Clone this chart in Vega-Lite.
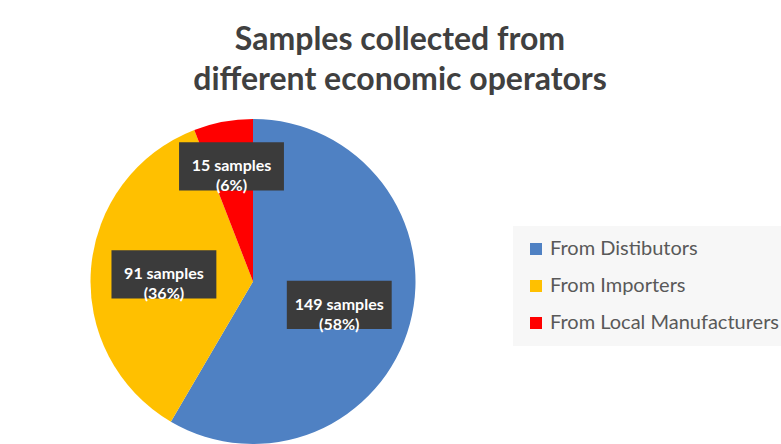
{
  "$schema": "https://vega.github.io/schema/vega-lite/v6.json",
  "autosize": "none",
  "width": 506,
  "height": 325,
  "padding": {"left": 0, "top": 119, "right": 275, "bottom": 0},
  "background": "white",
  "config": {"view": {"stroke": null}},
  "title": {
    "text": ["Samples collected from", "different economic operators"],
    "font": "Lato",
    "fontSize": 32,
    "fontWeight": "bold",
    "color": "#404040",
    "anchor": "middle",
    "frame": "group",
    "dx": 147,
    "offset": 22,
    "lineHeight": 40
  },
  "data": {
    "values": [
      {"category": "From Distibutors", "count": 149, "label": "149 samples\n(58%)"},
      {"category": "From Importers", "count": 91, "label": "91 samples\n(36%)"},
      {"category": "From Local Manufacturers", "count": 15, "label": "15 samples\n(6%)"}
    ]
  },
  "transform": [
    {"joinaggregate": [{"op": "sum", "field": "count", "as": "total"}]},
    {"window": [{"op": "sum", "field": "count", "as": "cum"}], "sort": [{"field": "category"}], "frame": [null, 0]},
    {"calculate": "(datum.cum - datum.count / 2) / datum.total * 2 * PI", "as": "mid"},
    {"calculate": "datum.count / datum.total < 0.1 ? 0.72 : 0.55", "as": "lr"},
    {"calculate": "datum.lr * sin(datum.mid)", "as": "lx"},
    {"calculate": "datum.lr * cos(datum.mid)", "as": "ly"}
  ],
  "layer": [
    {
      "mark": {"type": "arc"},
      "encoding": {
        "theta": {"field": "count", "type": "quantitative", "stack": true},
        "color": {
          "field": "category",
          "type": "nominal",
          "scale": {
            "domain": ["From Distibutors", "From Importers", "From Local Manufacturers"],
            "range": ["#4f81c3", "#ffc000", "#ff0000"]
          },
          "legend": {
            "title": null,
            "orient": "none",
            "legendX": 513,
            "legendY": 107,
            "fillColor": "#f7f7f7",
            "padding": 13,
            "symbolType": "square",
            "symbolSize": 144,
            "symbolStrokeWidth": 0,
            "labelFont": "Lato",
            "labelFontSize": 20,
            "labelColor": "#595959",
            "labelOffset": 4,
            "rowPadding": 17,
            "labelLimit": 400
          }
        }
      }
    },
    {
      "mark": {
        "type": "point",
        "shape": "M-1,-0.46H1V0.46H-1Z",
        "size": 11000,
        "filled": true,
        "color": "#3b3b3b",
        "opacity": 1
      },
      "encoding": {
        "x": {"field": "lx", "type": "quantitative", "scale": {"domain": [-1.557, 1.557], "nice": false, "zero": false}, "axis": null},
        "y": {"field": "ly", "type": "quantitative", "scale": {"domain": [-1, 1], "nice": false, "zero": false}, "axis": null}
      }
    },
    {
      "mark": {
        "type": "text",
        "font": "Lato",
        "fontSize": 16,
        "fontWeight": "bold",
        "color": "white",
        "lineBreak": "\n",
        "lineHeight": 20,
        "align": "center",
        "baseline": "middle"
      },
      "encoding": {
        "x": {"field": "lx", "type": "quantitative"},
        "y": {"field": "ly", "type": "quantitative"},
        "text": {"field": "label"}
      }
    }
  ]
}
